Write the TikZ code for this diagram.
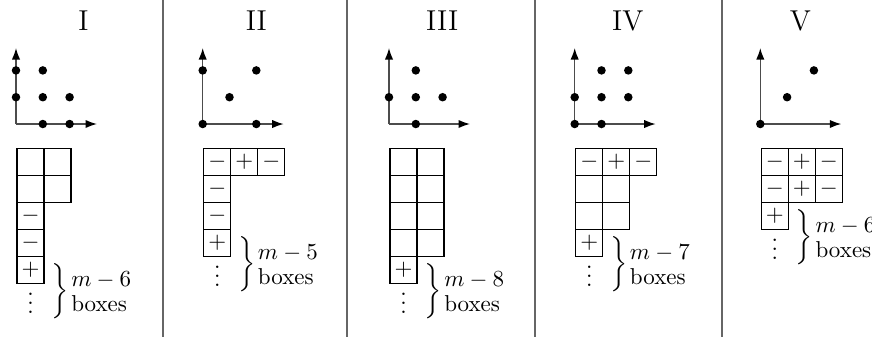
\documentclass[tikz,border=0pt]{standalone}
\usetikzlibrary{arrows.meta}
\newcommand\bxlabel[1]{$\bigg\}\mskip2mu\vcenter{\hbox{\shortstack[l]{$m-#1$\\boxes}}}$}
\newcommand\tightvdots{\raisebox{0pt}[9.6pt][0pt]{$\vdots$}}
\newcommand\mkcell[4]{\node[cell] (#1) at ({14.5+27*#2},{162+27*#3}) {#4};}
\newcommand\lpt[2]{\fill[latticept] ({26.8*#1},{124-26.8*#2}) circle[radius=1.85pt];}
\tikzset{
  cell/.style={draw, line width=0.45pt, minimum size=11.74pt, inner sep=0pt, outer sep=0pt, anchor=center},
  axisline/.style={draw=black!70, line width=0.6pt, -{Latex[length=5pt,width=3.6pt,color=black]}},
  latticept/.style={fill=black},
  sepline/.style={draw=black!60, line width=0.7pt},
  paneltitle/.style={font=\fontsize{12.5}{15}\selectfont, anchor=base, inner sep=0pt},
  bracelabel/.style={anchor=west, inner sep=0pt},
  vdotsnode/.style={anchor=base, inner sep=0pt},
}
\begin{document}
\begin{tikzpicture}[x=0.4348pt, y=-0.4348pt]
\useasboundingbox (0,0) rectangle (872,339);
% separators
\foreach \sx [count=\k] in {163,347,535,722}{
  \coordinate (s\k t) at (\sx,0);
  \coordinate (s\k b) at (\sx,337);
  \draw[sepline] (s\k t) -- (s\k b);
}
% ---------- Panel I ----------
\begin{scope}[shift={(16,0)}]
  \node[paneltitle] (Ititle) at (67.5,30) {I};
  \coordinate (Io) at (0,124); \coordinate (Ix) at (81,124); \coordinate (Iy) at (0,48);
  \draw[axisline] (Io) -- (Ix); \draw[axisline] (Io) -- (Iy);
  \lpt{0}{2}\lpt{1}{2}\lpt{0}{1}\lpt{1}{1}\lpt{2}{1}\lpt{1}{0}\lpt{2}{0}
  \mkcell{I00}{0}{0}{}\mkcell{I10}{1}{0}{}
  \mkcell{I01}{0}{1}{}\mkcell{I11}{1}{1}{}
  \mkcell{I02}{0}{2}{$-$}
  \mkcell{I03}{0}{3}{$-$}
  \mkcell{I04}{0}{4}{$+$}
  \node[vdotsnode] (Ivd) at (14.5,313.5) {\tightvdots};
  \node[bracelabel] (Ibr) at (35,291.5) {\bxlabel{6}};
\end{scope}
% ---------- Panel II ----------
\begin{scope}[shift={(202.7,0)}]
  \node[paneltitle] (IItitle) at (53.6,30) {II};
  \coordinate (IIo) at (0,124); \coordinate (IIx) at (81,124); \coordinate (IIy) at (0,48);
  \draw[axisline] (IIo) -- (IIx); \draw[axisline] (IIo) -- (IIy);
  \lpt{0}{2}\lpt{2}{2}\lpt{1}{1}\lpt{0}{0}\lpt{2}{0}
  \mkcell{II00}{0}{0}{$-$}\mkcell{II10}{1}{0}{$+$}\mkcell{II20}{2}{0}{$-$}
  \mkcell{II01}{0}{1}{$-$}
  \mkcell{II02}{0}{2}{$-$}
  \mkcell{II03}{0}{3}{$+$}
  \node[vdotsnode] (IIvd) at (14.5,286.5) {\tightvdots};
  \node[bracelabel] (IIbr) at (35,264.5) {\bxlabel{5}};
\end{scope}
% ---------- Panel III ----------
\begin{scope}[shift={(389,0)}]
  \node[paneltitle] (IIItitle) at (53.2,30) {III};
  \coordinate (IIIo) at (0,124); \coordinate (IIIx) at (81,124); \coordinate (IIIy) at (0,48);
  \draw[axisline] (IIIo) -- (IIIx); \draw[axisline] (IIIo) -- (IIIy);
  \lpt{1}{2}\lpt{0}{1}\lpt{1}{1}\lpt{2}{1}\lpt{1}{0}
  \mkcell{III00}{0}{0}{}\mkcell{III10}{1}{0}{}
  \mkcell{III01}{0}{1}{}\mkcell{III11}{1}{1}{}
  \mkcell{III02}{0}{2}{}\mkcell{III12}{1}{2}{}
  \mkcell{III03}{0}{3}{}\mkcell{III13}{1}{3}{}
  \mkcell{III04}{0}{4}{$+$}
  \node[vdotsnode] (IIIvd) at (14.5,313.5) {\tightvdots};
  \node[bracelabel] (IIIbr) at (35,291.5) {\bxlabel{8}};
\end{scope}
% ---------- Panel IV ----------
\begin{scope}[shift={(574.7,0)}]
  \node[paneltitle] (IVtitle) at (53.1,30) {IV};
  \coordinate (IVo) at (0,124); \coordinate (IVx) at (81,124); \coordinate (IVy) at (0,48);
  \draw[axisline] (IVo) -- (IVx); \draw[axisline] (IVo) -- (IVy);
  \lpt{1}{2}\lpt{2}{2}\lpt{0}{1}\lpt{1}{1}\lpt{2}{1}\lpt{0}{0}\lpt{1}{0}
  \mkcell{IV00}{0}{0}{$-$}\mkcell{IV10}{1}{0}{$+$}\mkcell{IV20}{2}{0}{$-$}
  \mkcell{IV01}{0}{1}{}\mkcell{IV11}{1}{1}{}
  \mkcell{IV02}{0}{2}{}\mkcell{IV12}{1}{2}{}
  \mkcell{IV03}{0}{3}{$+$}
  \node[vdotsnode] (IVvd) at (14.5,286.5) {\tightvdots};
  \node[bracelabel] (IVbr) at (35,264.5) {\bxlabel{7}};
\end{scope}
% ---------- Panel V ----------
\begin{scope}[shift={(760.3,0)}]
  \node[paneltitle] (Vtitle) at (40,30) {V};
  \coordinate (Vo) at (0,124); \coordinate (Vx) at (81,124); \coordinate (Vy) at (0,48);
  \draw[axisline] (Vo) -- (Vx); \draw[axisline] (Vo) -- (Vy);
  \lpt{0}{0}\lpt{1}{1}\lpt{2}{2}
  \mkcell{V00}{0}{0}{$-$}\mkcell{V10}{1}{0}{$+$}\mkcell{V20}{2}{0}{$-$}
  \mkcell{V01}{0}{1}{$-$}\mkcell{V11}{1}{1}{$+$}\mkcell{V21}{2}{1}{$-$}
  \mkcell{V02}{0}{2}{$+$}
  \node[vdotsnode] (Vvd) at (14.5,259.5) {\tightvdots};
  \node[bracelabel] (Vbr) at (35,237.5) {\bxlabel{6}};
\end{scope}
\end{tikzpicture}
\end{document}
